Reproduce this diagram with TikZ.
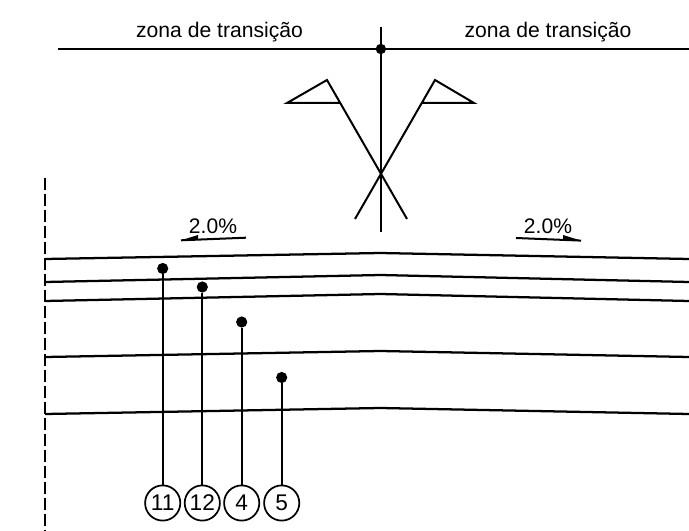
\documentclass[tikz,border=0pt]{standalone}
\usepackage{fontspec}
\setmainfont{Liberation Sans}
\tikzset{
  x=0.75pt,y=-0.75pt,
  ln/.style={line width=1.7pt,black,line cap=butt},
  thin ln/.style={line width=1.5pt,black},
  dotn/.style={circle,fill=black,inner sep=0pt,minimum size=8.4pt},
  callout/.style={circle,draw=black,line width=1.3pt,fill=white,inner sep=0pt,minimum size=26.4pt,font=\fontsize{17pt}{19pt}\selectfont},
  lab/.style={inner sep=0pt,font=\fontsize{15.85pt}{18pt}\selectfont},
  pct/.style={inner sep=0pt,font=\fontsize{15.8pt}{18pt}\selectfont}
}
\begin{document}
\begin{tikzpicture}
\useasboundingbox (0,0) rectangle (689,531);
% centre line and datum
\coordinate (ct) at (380.9,27);
\coordinate (cb) at (380.9,232);
\coordinate (hl) at (58,48.7);
\coordinate (hr) at (689,48.7);
\draw[ln] (hl) -- (hr);
\draw[thin ln] (ct) -- (cb);
\node[dotn,minimum size=7.8pt] (top) at (380.9,49) {};
\node[lab] (zl) at (219.5,32) {zona de transição};
\node[lab] (zr) at (548,32) {zona de transição};
% flags
\coordinate (fl1) at (327,80);
\coordinate (fl2) at (407,219);
\coordinate (fl3) at (287,103);
\coordinate (fl4) at (339.5,103);
\coordinate (fr1) at (435,80);
\coordinate (fr2) at (355,219);
\coordinate (fr3) at (474,103);
\coordinate (fr4) at (422,103);
\draw[thin ln,line join=miter] (fl2) -- (fl1) -- (fl3) -- (fl4);
\draw[thin ln,line join=miter] (fr2) -- (fr1) -- (fr3) -- (fr4);
% axis
\coordinate (da) at (45.3,178);
\coordinate (db) at (45.3,531);
\draw[line width=1.7pt,dash pattern=on 9pt off 3pt] (da) -- (db);
% slope arrows
\node[pct] (pl) at (213,226.3) {2.0\%};
\node[pct] (pr) at (548,226.5) {2.0\%};
\coordinate (al1) at (246,237.7);
\coordinate (al2) at (181,240.3);
\coordinate (al3) at (198,235);
\coordinate (al4) at (198,239.6);
\coordinate (ar1) at (516,238);
\coordinate (ar2) at (581,240.6);
\coordinate (ar3) at (563,235);
\coordinate (ar4) at (563,239.9);
\draw[thin ln] (al1) -- (al2);
\fill (al2) -- (al3) -- (al4) -- cycle;
\draw[thin ln] (ar1) -- (ar2);
\fill (ar2) -- (ar3) -- (ar4) -- cycle;
% pavement layers
\foreach \n/\a/\b in {a/259/253,b/282/275,c/301/294,d/357/351,e/414/408}{
  \coordinate (\n0) at (45,\a);
  \coordinate (\n1) at (380.5,\b);
  \coordinate (\n2) at (689,\a);
  \draw[ln,line join=round] (\n0) -- (\n1) -- (\n2);
}
% callouts
\node[dotn] (d11) at (162.7,268.5) {};
\node[dotn] (d12) at (202.3,287) {};
\node[dotn] (d4) at (241.7,322) {};
\node[dotn] (d5) at (281.7,377.5) {};
\node[callout] (c11) at (162.7,503) {11};
\node[callout] (c12) at (202.3,503) {12};
\node[callout] (c4) at (241.7,503) {4};
\node[callout] (c5) at (281.7,503) {5};
\foreach \k in {11,12,4,5} \draw[thin ln] (d\k) -- (c\k);
\end{tikzpicture}
\end{document}
